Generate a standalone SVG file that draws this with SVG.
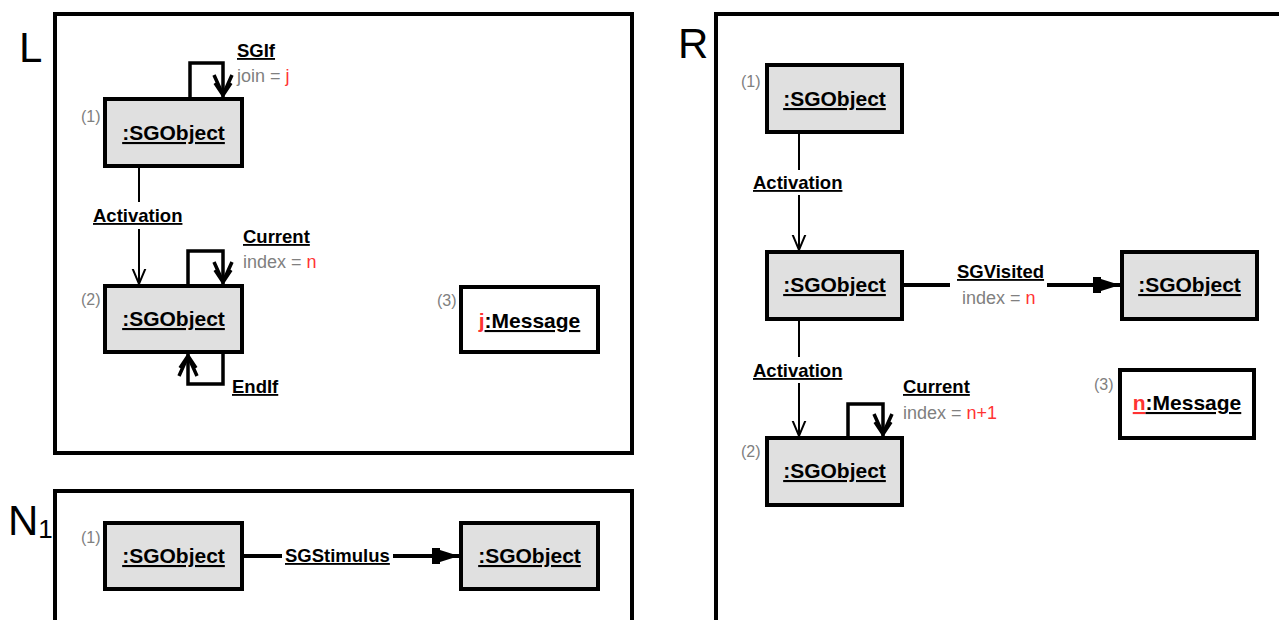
<svg xmlns="http://www.w3.org/2000/svg" width="1279" height="620" viewBox="0 0 1279 620">
  <style>
    .frame { fill: none; stroke: #000; stroke-width: 4; }
    .obj { fill: #e0e0e0; stroke: #000; stroke-width: 4; }
    .msg { fill: #fff; stroke: #000; stroke-width: 4; }
    .title { font-family: "Liberation Sans", Arial, sans-serif; font-size: 42px; fill: #000; }
    .name { font-family: "Liberation Sans", Arial, sans-serif; font-size: 21px; font-weight: bold; fill: #000; text-decoration: underline; }
    .role { font-family: "Liberation Sans", Arial, sans-serif; font-size: 18.5px; font-weight: bold; fill: #000; text-decoration: underline; }
    .attr { font-family: "Liberation Sans", Arial, sans-serif; font-size: 18px; fill: #808080; }
    .num { font-family: "Liberation Sans", Arial, sans-serif; font-size: 16px; fill: #808080; }
    .red { fill: #ff3333; }
    .act { fill: none; stroke: #000; stroke-width: 2; }
    .loop { fill: none; stroke: #000; stroke-width: 3.5; }
    .link { fill: none; stroke: #000; stroke-width: 4; }
  </style>
  <defs>
    <marker id="openV" markerUnits="userSpaceOnUse" markerWidth="30" markerHeight="30" viewBox="-15 -15 30 30" refX="0" refY="0" orient="auto">
      <path d="M-24,-10 L0,0 L-24,10" fill="none" stroke="#000" stroke-width="2"/>
    </marker>
    <marker id="loopV" markerUnits="userSpaceOnUse" markerWidth="30" markerHeight="30" viewBox="-28 -15 30 30" refX="0" refY="0" orient="auto">
      <path d="M-22,-9 L-2,0 L-22,9 M-14,-8 L-2,0 L-14,8" fill="none" stroke="#000" stroke-width="3.5" stroke-linejoin="miter"/>
    </marker>
    <marker id="solid" markerUnits="userSpaceOnUse" markerWidth="32" markerHeight="24" viewBox="-30 -12 32 24" refX="0" refY="0" orient="auto">
      <path d="M-27,-8 L-19,-8 L-19,-6 L0,0 L-19,6 L-19,8 L-27,8 Z" fill="#000"/>
    </marker>
  </defs>

  <!-- frames -->
  <g id="frame-L">
    <rect class="frame" x="55" y="14" width="577" height="439"/>
    <text class="title" x="19" y="62">L</text>
  </g>
  <g id="frame-N1">
    <rect class="frame" x="55" y="491" width="577" height="200"/>
    <text class="title" x="8" y="535">N<tspan font-size="26" dy="3">1</tspan></text>
  </g>
  <g id="frame-R">
    <rect class="frame" x="716" y="14" width="700" height="700"/>
    <text class="title" x="678" y="58">R</text>
  </g>

  <!-- connectors -->
  <g id="connectors">
    <!-- L: SGIf self-loop on (1) -->
    <path class="loop" d="M190,97 V63 H223 V97" marker-end="url(#loopV)"/>
    <!-- L: Activation (1) -> (2) -->
    <path class="act" d="M139,167 V202"/>
    <path class="act" d="M139,229 V284" marker-end="url(#openV)"/>
    <!-- L: Current self-loop on (2) -->
    <path class="loop" d="M188,284 V251 H223 V284" marker-end="url(#loopV)"/>
    <!-- L: EndIf self-loop on (2) -->
    <path class="loop" d="M223,354 V384 H188 V354" marker-end="url(#loopV)"/>
    <!-- N1: SGStimulus -->
    <path class="link" d="M243,556 H282"/>
    <path class="link" d="M393,556 H459" marker-end="url(#solid)"/>
    <!-- R: Activation (1) -> middle -->
    <path class="act" d="M799,133 V170"/>
    <path class="act" d="M799,195 V250" marker-end="url(#openV)"/>
    <!-- R: SGVisited -->
    <path class="link" d="M903,285 H950"/>
    <path class="link" d="M1047,285 H1120" marker-end="url(#solid)"/>
    <!-- R: Activation middle -> (2) -->
    <path class="act" d="M799,320 V357"/>
    <path class="act" d="M799,383 V436" marker-end="url(#openV)"/>
    <!-- R: Current self-loop on (2) -->
    <path class="loop" d="M848,436 V404 H883 V436" marker-end="url(#loopV)"/>

    <!-- labels -->
    <text class="role" x="237" y="57">SGIf</text>
    <text class="attr" x="237" y="82">join = <tspan class="red">j</tspan></text>
    <text class="role" x="93" y="222">Activation</text>
    <text class="role" x="243" y="243">Current</text>
    <text class="attr" x="243" y="268">index = <tspan class="red">n</tspan></text>
    <text class="role" x="232" y="393">EndIf</text>
    <text class="role" x="285" y="562">SGStimulus</text>
    <text class="role" x="753" y="189">Activation</text>
    <text class="role" x="957" y="278">SGVisited</text>
    <text class="attr" x="962" y="304">index = <tspan class="red">n</tspan></text>
    <text class="role" x="753" y="377">Activation</text>
    <text class="role" x="903" y="393">Current</text>
    <text class="attr" x="903" y="419">index = <tspan class="red">n+1</tspan></text>
  </g>

  <!-- L nodes -->
  <g id="L-obj1">
    <rect class="obj" x="105" y="99" width="137" height="67"/>
    <text class="name" x="173.5" y="140" text-anchor="middle">:SGObject</text>
    <text class="num" x="81" y="122">(1)</text>
  </g>
  <g id="L-obj2">
    <rect class="obj" x="105" y="286" width="137" height="66"/>
    <text class="name" x="173.5" y="326" text-anchor="middle">:SGObject</text>
    <text class="num" x="81" y="305">(2)</text>
  </g>
  <g id="L-msg3">
    <rect class="msg" x="461" y="287" width="137" height="65"/>
    <text x="529.5" y="328" text-anchor="middle" class="name" style="text-decoration:none"><tspan class="red" text-decoration="underline">j</tspan><tspan text-decoration="underline">:Message</tspan></text>
    <text class="num" x="437" y="306">(3)</text>
  </g>

  <!-- N1 nodes -->
  <g id="N1-obj1">
    <rect class="obj" x="105" y="523" width="137" height="66"/>
    <text class="name" x="173.5" y="563" text-anchor="middle">:SGObject</text>
    <text class="num" x="81" y="543">(1)</text>
  </g>
  <g id="N1-obj2">
    <rect class="obj" x="461" y="523" width="137" height="66"/>
    <text class="name" x="529.5" y="563" text-anchor="middle">:SGObject</text>
  </g>

  <!-- R nodes -->
  <g id="R-obj1">
    <rect class="obj" x="767" y="65" width="135" height="67"/>
    <text class="name" x="834.5" y="106" text-anchor="middle">:SGObject</text>
    <text class="num" x="741" y="87">(1)</text>
  </g>
  <g id="R-obj-mid">
    <rect class="obj" x="767" y="252" width="135" height="67"/>
    <text class="name" x="834.5" y="292" text-anchor="middle">:SGObject</text>
  </g>
  <g id="R-obj-right">
    <rect class="obj" x="1122" y="252" width="135" height="67"/>
    <text class="name" x="1189.5" y="292" text-anchor="middle">:SGObject</text>
  </g>
  <g id="R-obj2">
    <rect class="obj" x="767" y="438" width="135" height="67"/>
    <text class="name" x="834.5" y="478" text-anchor="middle">:SGObject</text>
    <text class="num" x="741" y="457">(2)</text>
  </g>
  <g id="R-msg3">
    <rect class="msg" x="1120" y="370" width="134" height="68"/>
    <text x="1187" y="410" text-anchor="middle" class="name" style="text-decoration:none"><tspan class="red" text-decoration="underline">n</tspan><tspan text-decoration="underline">:Message</tspan></text>
    <text class="num" x="1094" y="390">(3)</text>
  </g>
</svg>
